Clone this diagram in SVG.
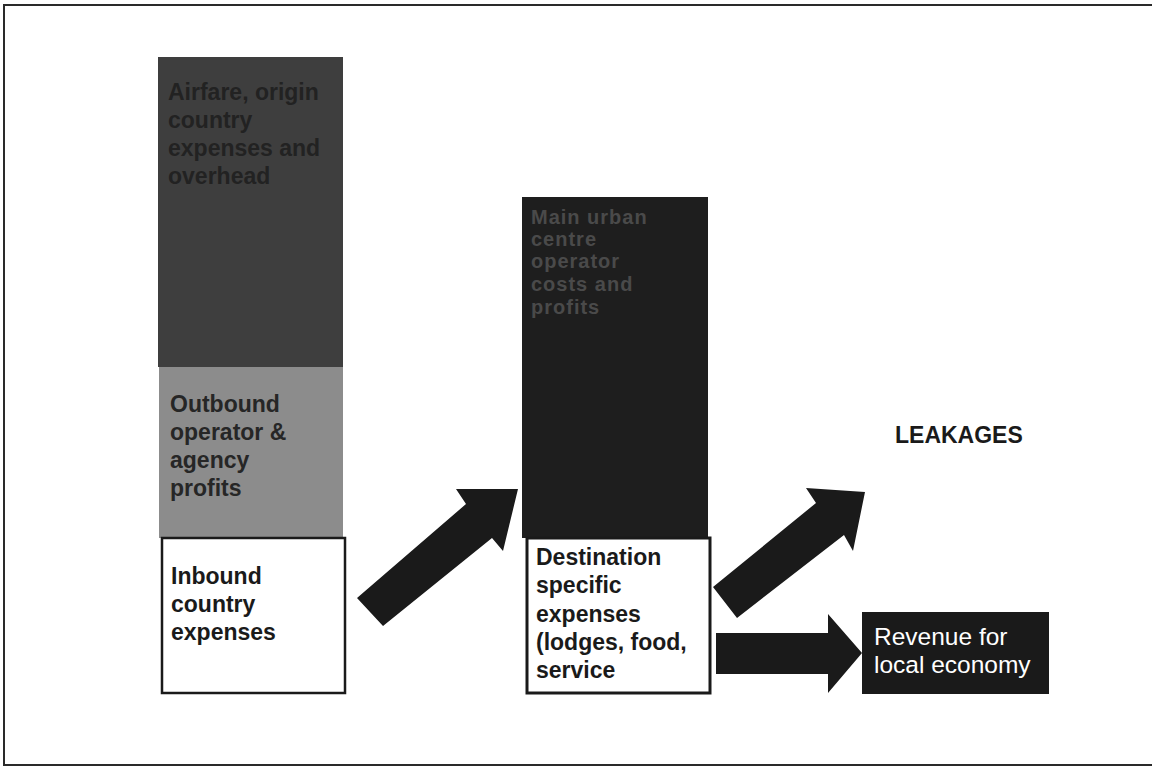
<svg xmlns="http://www.w3.org/2000/svg" width="1152" height="767" viewBox="0 0 1152 767">
<style>
.b{font-family:"Liberation Sans",Arial,sans-serif;font-weight:bold;font-size:23px}
.s{font-family:"Liberation Sans",Arial,sans-serif;font-weight:bold;font-size:20px;letter-spacing:1px}
.r{font-family:"Liberation Sans",Arial,sans-serif;font-size:24.5px;fill:#ffffff}
.arr{fill:#1a1a1a}
</style>
<rect x="0" y="0" width="1152" height="767" fill="#ffffff"/>
<rect x="4" y="5" width="1150" height="760" fill="none" stroke="#2a2a2a" stroke-width="2"/>
<g id="airfare">
<rect x="158" y="57" width="185" height="310" fill="#3e3e3e"/>
<text class="b" fill="#222222"><tspan x="168" y="100">Airfare, origin</tspan><tspan x="168" y="128">country</tspan><tspan x="168" y="156">expenses and</tspan><tspan x="168" y="184">overhead</tspan></text>
</g>
<g id="outbound">
<rect x="159" y="367" width="184" height="171" fill="#8c8c8c"/>
<text class="b" fill="#262626"><tspan x="170" y="412">Outbound</tspan><tspan x="170" y="440">operator &amp;</tspan><tspan x="170" y="468">agency</tspan><tspan x="170" y="496">profits</tspan></text>
</g>
<g id="inbound">
<rect x="162" y="538" width="183" height="155" fill="#ffffff" stroke="#1a1a1a" stroke-width="2.5"/>
<text class="b" fill="#1a1a1a"><tspan x="171" y="584">Inbound</tspan><tspan x="171" y="612">country</tspan><tspan x="171" y="640">expenses</tspan></text>
</g>
<g id="urban">
<rect x="522" y="197" width="186" height="341" fill="#1e1e1e"/>
<text class="s" fill="#4a4a4a"><tspan x="531" y="224">Main urban</tspan><tspan x="531" y="246">centre</tspan><tspan x="531" y="268">operator</tspan><tspan x="531" y="291">costs and</tspan><tspan x="531" y="314">profits</tspan></text>
</g>
<g id="destination">
<rect x="527" y="538" width="183" height="155" fill="#ffffff" stroke="#1a1a1a" stroke-width="3"/>
<text class="b" fill="#1a1a1a"><tspan x="536" y="565">Destination</tspan><tspan x="536" y="593">specific</tspan><tspan x="536" y="622">expenses</tspan><tspan x="536" y="650">(lodges, food,</tspan><tspan x="536" y="678">service</tspan></text>
</g>
<g id="leakages">
<text class="b" fill="#1a1a1a" x="895" y="443">LEAKAGES</text>
</g>
<g id="revenue">
<rect x="862" y="612" width="187" height="82" fill="#1a1a1a"/>
<text class="r"><tspan x="874" y="645">Revenue for</tspan><tspan x="874" y="673">local economy</tspan></text>
</g>
<g id="connectors">
<polygon class="arr" points="357,598 466,504 456,489 518,489 503,551 492,538 383,626"/>
<polygon class="arr" points="713,587 816,503 806,488 865,492 853,551 844,535 737,618"/>
<polygon class="arr" points="716,633 828,633 828,614 862,653 828,693 828,674 716,674"/>
</g>
</svg>
